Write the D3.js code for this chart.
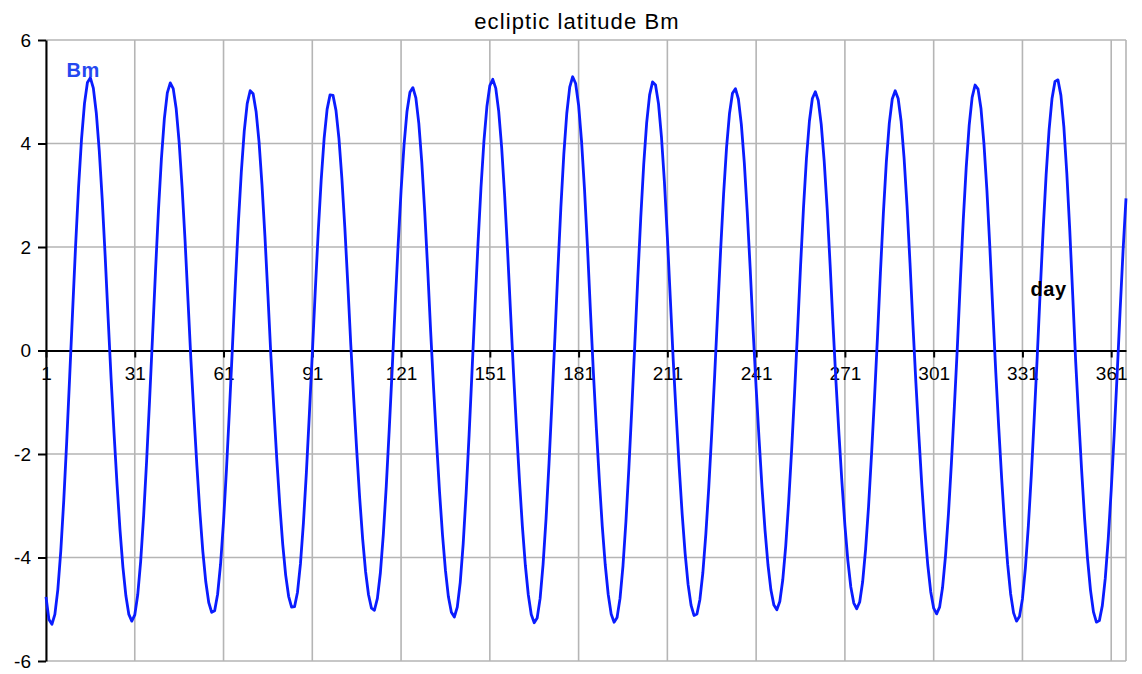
<!DOCTYPE html>
<html>
<head>
<meta charset="utf-8">
<script src="https://cdn.jsdelivr.net/npm/d3@7"></script>
<style>
html,body{margin:0;padding:0;background:#fff;}
svg{display:block;font-family:"Liberation Sans",Arial,sans-serif;}
</style>
</head>
<body>
<svg id="chart" width="1142" height="674"></svg>
<script>
// ---- data ----
const titleText = "ecliptic latitude Bm";
const seriesName = "Bm";
const xAxisName = "day";
const dayTicks = [1, 31, 61, 91, 121, 151, 181, 211, 241, 271, 301, 331, 361];
const yTicks = [-6, -4, -2, 0, 2, 4, 6];
const bm = [
  -4.76,-5.20,-5.29,-5.10,-4.62,-3.87,-2.90,-1.76,-0.51,0.77,
  2.02,3.15,4.08,4.77,5.18,5.27,5.07,4.59,3.86,2.92,
  1.82,0.62,-0.54,-1.60,-2.58,-3.46,-4.19,-4.74,-5.10,-5.23,
  -5.11,-4.72,-4.07,-3.19,-2.14,-0.97,0.26,1.52,2.70,3.70,
  4.48,4.98,5.17,5.06,4.67,4.02,3.15,2.12,0.96,-0.21,
  -1.25,-2.23,-3.12,-3.88,-4.47,-4.87,-5.06,-5.03,-4.71,-4.13,
  -3.30,-2.29,-1.15,0.06,1.29,2.45,3.44,4.24,4.77,5.02,
  4.96,4.62,4.03,3.20,2.20,1.07,-0.10,-1.12,-2.10,-2.98,
  -3.74,-4.34,-4.75,-4.96,-4.95,-4.67,-4.12,-3.33,-2.36,-1.24,
  -0.06,1.15,2.29,3.29,4.10,4.66,4.94,4.93,4.64,4.10,
  3.32,2.37,1.28,0.12,-0.93,-1.92,-2.84,-3.63,-4.27,-4.72,
  -4.98,-5.02,-4.79,-4.30,-3.56,-2.62,-1.53,-0.36,0.86,2.03,
  3.09,3.97,4.62,4.99,5.08,4.88,4.39,3.64,2.68,1.57,
  0.37,-0.74,-1.77,-2.73,-3.56,-4.25,-4.76,-5.06,-5.15,-4.96,
  -4.48,-3.73,-2.75,-1.62,-0.38,0.87,2.06,3.14,4.04,4.71,
  5.12,5.24,5.07,4.62,3.92,3.00,1.92,0.74,-0.43,-1.50,
  -2.50,-3.40,-4.15,-4.72,-5.10,-5.26,-5.17,-4.79,-4.13,-3.25,
  -2.18,-0.99,0.26,1.56,2.76,3.79,4.58,5.09,5.29,5.16,
  4.74,4.04,3.11,2.00,0.76,-0.43,-1.50,-2.50,-3.40,-4.14,
  -4.71,-5.09,-5.25,-5.16,-4.79,-4.16,-3.30,-2.26,-1.10,0.13,
  1.39,2.56,3.59,4.40,4.94,5.19,5.13,4.77,4.13,3.26,
  2.19,1.00,-0.21,-1.26,-2.26,-3.16,-3.92,-4.52,-4.92,-5.12,
  -5.09,-4.81,-4.29,-3.55,-2.64,-1.59,-0.46,0.74,1.94,3.02,
  3.92,4.58,4.97,5.06,4.86,4.37,3.63,2.67,1.57,0.37,
  -0.72,-1.72,-2.66,-3.47,-4.14,-4.63,-4.92,-5.01,-4.85,-4.43,
  -3.78,-2.92,-1.92,-0.81,0.38,1.62,2.75,3.71,4.43,4.87,
  5.00,4.83,4.37,3.66,2.74,1.66,0.48,-0.62,-1.62,-2.55,
  -3.38,-4.06,-4.57,-4.88,-4.99,-4.86,-4.47,-3.84,-3.01,-2.01,
  -0.92,0.25,1.50,2.65,3.64,4.39,4.86,5.02,4.87,4.43,
  3.72,2.79,1.69,0.49,-0.63,-1.65,-2.61,-3.45,-4.14,-4.66,
  -4.98,-5.09,-4.96,-4.58,-3.97,-3.15,-2.17,-1.08,0.06,1.33,
  2.52,3.54,4.35,4.89,5.13,5.05,4.67,3.99,3.09,1.98,
  0.76,-0.43,-1.50,-2.49,-3.38,-4.13,-4.70,-5.07,-5.23,-5.14,
  -4.80,-4.20,-3.39,-2.41,-1.29,-0.12,1.14,2.33,3.39,4.26,
  4.87,5.20,5.23,4.93,4.32,3.42,2.32,1.06,-0.22,-1.29,
  -2.31,-3.24,-4.02,-4.63,-5.05,-5.25,-5.22,-4.93,-4.40,-3.64,
  -2.70,-1.63,-0.47,0.76,1.92,2.94
];
const days = bm.map((_, i) => i + 1);

// ---- layout ----
const svg = d3.select("#chart");
const plot = {left: 46, right: 1126, top: 40, bottom: 661};
const x = d3.scaleLinear().domain([days[0], days[days.length - 1]]).range([plot.left, plot.right]);
const y = d3.scaleLinear().domain([-6, 6]).range([plot.bottom, plot.top]);
const gridColor = "#b5b5b5";
const plainNumber = d => String(d);

// gridlines
const grid = svg.append("g");
grid.selectAll("line.h").data(yTicks.filter(v => v !== 0)).join("line")
  .attr("x1", plot.left).attr("x2", plot.right)
  .attr("y1", d => y(d)).attr("y2", d => y(d))
  .attr("stroke", gridColor).attr("stroke-width", 1.6);
grid.selectAll("line.v").data(dayTicks.concat([days[days.length - 1]])).join("line")
  .attr("x1", d => x(d)).attr("x2", d => x(d))
  .attr("y1", plot.top).attr("y2", plot.bottom)
  .attr("stroke", gridColor).attr("stroke-width", 1.6);

// y axis
const yAxis = svg.append("g").attr("transform", `translate(${plot.left},0)`)
  .call(d3.axisLeft(y).tickValues(yTicks).tickSize(8).tickSizeOuter(0).tickPadding(7).tickFormat(plainNumber));
yAxis.select(".domain").attr("stroke", "#000").attr("stroke-width", 2);
yAxis.selectAll(".tick line").attr("stroke", "#000").attr("stroke-width", 2);
yAxis.selectAll("text").attr("font-size", 19).attr("fill", "#000")
  .attr("font-family", "'Liberation Sans', Arial, sans-serif");

// x axis at y = 0
const xAxis = svg.append("g").attr("transform", `translate(0,${y(0)})`)
  .call(d3.axisBottom(x).tickValues(dayTicks).tickSize(7).tickSizeOuter(0).tickPadding(9.5).tickFormat(plainNumber));
xAxis.select(".domain").attr("stroke", "#000").attr("stroke-width", 2);
xAxis.selectAll(".tick line").attr("stroke", "#000").attr("stroke-width", 2);
xAxis.selectAll("text").attr("font-size", 19).attr("fill", "#000")
  .attr("font-family", "'Liberation Sans', Arial, sans-serif");

// series line
const line = d3.line().x((d, i) => x(days[i])).y(d => y(d));
svg.append("path").datum(bm)
  .attr("d", line)
  .attr("fill", "none")
  .attr("stroke", "#0a1cff")
  .attr("stroke-width", 2.8)
  .attr("stroke-linejoin", "round");

// texts
svg.append("text").attr("x", 577).attr("y", 29)
  .attr("text-anchor", "middle").attr("font-size", 22).attr("letter-spacing", 1.1)
  .attr("fill", "#000").text(titleText);
svg.append("text").attr("x", 66.5).attr("y", 76.5)
  .attr("font-size", 20).attr("font-weight", "bold").attr("letter-spacing", 0.6)
  .attr("fill", "#2548f0").text(seriesName);
svg.append("text").attr("x", 1030.5).attr("y", 296)
  .attr("font-size", 20).attr("font-weight", "bold").attr("letter-spacing", 0.6)
  .attr("fill", "#000").text(xAxisName);
</script>
</body>
</html>
